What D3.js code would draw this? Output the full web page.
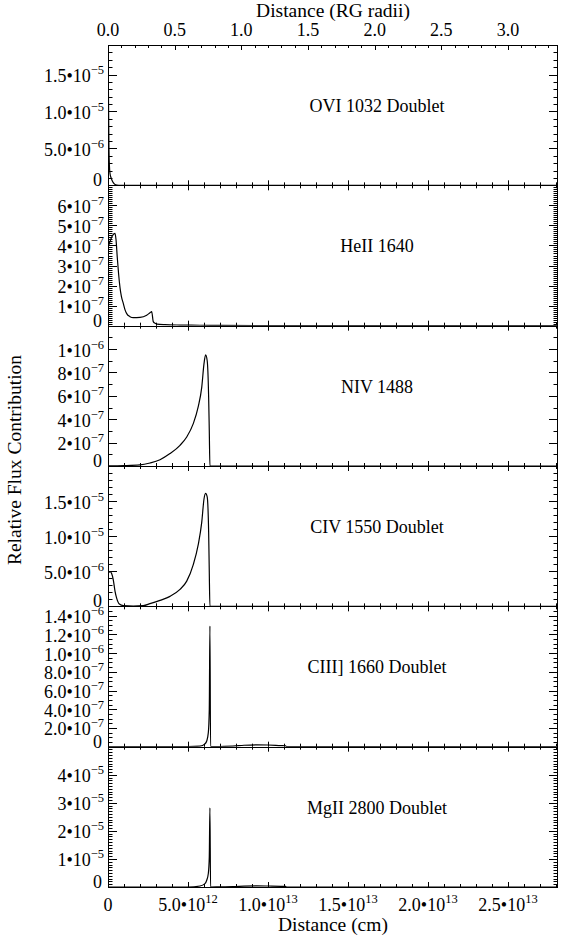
<!DOCTYPE html>
<html><head><meta charset="utf-8">
<script src="https://cdn.jsdelivr.net/npm/d3@7"></script>
<style>body{margin:0;background:#fff}svg{display:block}text{font-family:"Liberation Serif","Times New Roman",serif;fill:#000}</style>
</head><body><svg id="c" width="561" height="937" font-family="Liberation Serif, Times New Roman, serif"></svg>
<script>
// ---- data (x in units of 1e12 cm) ----
const panelNames = ["OVI 1032 Doublet","HeII 1640","NIV 1488","CIV 1550 Doublet","CIII] 1660 Doublet","MgII 2800 Doublet"];
const yMax = [1.9e-5, 7e-7, 1.2e-6, 2e-5, 1.5e-6, 5e-5];
const yMinorStep = [1e-6, 1e-8, 1e-7, 1e-6, 5e-8, 1e-6];
const yTicksOVI = [[0,"0"],[5e-6,"5.0•10^-6"],[1e-5,"1.0•10^-5"],[1.5e-5,"1.5•10^-5"]];
const yTicksHeII = [[0,"0"],[1e-7,"1•10^-7"],[2e-7,"2•10^-7"],[3e-7,"3•10^-7"],[4e-7,"4•10^-7"],[5e-7,"5•10^-7"],[6e-7,"6•10^-7"]];
const yTicksNIV = [[0,"0"],[2e-7,"2•10^-7"],[4e-7,"4•10^-7"],[6e-7,"6•10^-7"],[8e-7,"8•10^-7"],[1e-6,"1•10^-6"]];
const yTicksCIV = [[0,"0"],[5e-6,"5.0•10^-6"],[1e-5,"1.0•10^-5"],[1.5e-5,"1.5•10^-5"]];
const yTicksCIII = [[0,"0"],[2e-7,"2.0•10^-7"],[4e-7,"4.0•10^-7"],[6e-7,"6.0•10^-7"],[8e-7,"8.0•10^-7"],[1e-6,"1.0•10^-6"],[1.2e-6,"1.2•10^-6"],[1.4e-6,"1.4•10^-6"]];
const yTicksMgII = [[0,"0"],[1e-5,"1•10^-5"],[2e-5,"2•10^-5"],[3e-5,"3•10^-5"],[4e-5,"4•10^-5"]];

const xCmMax = 28.125;           // 1e12 cm
const cmPerRG = 8.3333;          // 1e12 cm per RG radius
const xTicksCm = [[0,"0"],[5,"5.0•10^12"],[10,"1.0•10^13"],[15,"1.5•10^13"],[20,"2.0•10^13"],[25,"2.5•10^13"]];
const xTicksRG = [[0,"0.0"],[0.5,"0.5"],[1,"1.0"],[1.5,"1.5"],[2,"2.0"],[2.5,"2.5"],[3,"3.0"]];

const xOVI = [0,0.03,0.06,0.09,0.125,0.18,0.23,0.28,0.33,0.38,0.44,0.55,0.8,28];
const yOVI = [1.9e-5,1.2e-5,5e-6,2.6e-6,1.6e-6,1.1e-6,8e-7,5.5e-7,3.6e-7,2.2e-7,1e-7,3e-8,0,0];
const xHeII = [0,0.125,0.25,0.44,0.5,0.58,0.66,0.75,0.84,0.96,1.06,1.17,1.375,1.58,2.0,2.42,2.62,2.73,2.83,2.94,3.06,3.56,4.5,5.75,7,10,15,28];
const yHeII = [3.9e-7,4.2e-7,4.45e-7,4.6e-7,4.3e-7,3.4e-7,2.6e-7,1.9e-7,1.45e-7,1.1e-7,8e-8,6e-8,4.5e-8,4e-8,4.1e-8,5.2e-8,6.4e-8,7e-8,2e-8,1.2e-8,8e-9,5e-9,3e-9,2e-9,1e-9,5e-10,0,0];
const xNIV = [0,1,2,2.625,3.25,3.875,4.5,4.92,5.33,5.64,5.86,6.0,6.1,6.2,6.29,6.33,6.37,28];
const yNIV = [1e-9,3e-9,9e-9,2.6e-8,5.4e-8,1.06e-7,1.77e-7,2.48e-7,3.62e-7,5.07e-7,6.75e-7,8.75e-7,9.5e-7,9.0e-7,5.9e-7,3.05e-7,0,0];
const xCIV = [0,0.125,0.22,0.33,0.44,0.54,0.71,0.96,1.58,2.21,2.625,3.25,3.875,4.5,4.92,5.33,5.64,5.86,6.0,6.1,6.2,6.29,6.33,6.37,28];
const yCIV = [4.7e-6,4.95e-6,4.7e-6,3.78e-6,2.13e-6,1.18e-6,3.3e-7,1e-7,3e-8,1e-7,3.8e-7,8.5e-7,1.42e-6,2.41e-6,3.59e-6,5.95e-6,8.8e-6,1.2e-5,1.53e-5,1.61e-5,1.56e-5,1.06e-5,4.9e-6,0,0];
const xCIII = [0,5.0,5.75,6.06,6.17,6.27,6.33,6.37,6.41,7.0,7.8,8.5,9.3,10.0,10.8,11.1,11.15,28];
const yCIII = [0,0,5e-9,3e-8,6e-8,1.5e-7,4e-7,1.29e-6,0,2e-9,5e-9,1.5e-8,2e-8,1.8e-8,1.2e-8,1e-8,0,0];
const xMgII = [0,5.0,5.75,6.06,6.17,6.27,6.33,6.37,6.41,7.0,7.8,8.5,9.3,10.0,10.8,11.1,11.15,28];
const yMgII = [0,0,3.6e-7,1.2e-6,2.4e-6,4.8e-6,1.07e-5,2.82e-5,0,5e-8,1e-7,3e-7,4e-7,3.5e-7,2.5e-7,2e-7,0,0];

const seriesX = [xOVI,xHeII,xNIV,xCIV,xCIII,xMgII];
const seriesY = [yOVI,yHeII,yNIV,yCIV,yCIII,yMgII];
const yTickSets = [yTicksOVI,yTicksHeII,yTicksNIV,yTicksCIV,yTicksCIII,yTicksMgII];

// ---- layout ----
const L = 108, R = 558, T = 45, B = 887, N = 6;
const ph = (B - T) / N;
const FS = 18, SUP = 12.5;
const svg = d3.select("#c");
const x = d3.scaleLinear().domain([0, xCmMax]).range([L, R]);
const xRG = d3.scaleLinear().domain([0, xCmMax / cmPerRG]).range([L, R]);

function addLabel(g, str, supSize, supDy) {
  const parts = str.split("^");
  g.append("tspan").text(parts[0]);
  if (parts[1] !== undefined) {
    g.append("tspan").attr("font-size", supSize).attr("dy", supDy).text(parts[1].replace("-", "\u2212"));
  }
}

for (let i = 0; i < N; i++) {
  const top = T + i * ph, bot = top + ph;
  const y = d3.scaleLinear().domain([0, yMax[i]]).range([bot, top]);
  const g = svg.append("g");
  const cid = "clip" + i;
  svg.append("clipPath").attr("id", cid).append("rect").attr("x", L).attr("y", top).attr("width", R - L).attr("height", ph);

  // curve
  const pts = seriesX[i].map((v, k) => [v, seriesY[i][k]]);
  g.append("path").datum(pts).attr("clip-path", `url(#${cid})`)
    .attr("fill", "none").attr("stroke", "#000").attr("stroke-width", 1.2)
    .attr("d", d3.line().x(d => x(d[0])).y(d => y(d[1])).curve(d3.curveMonotoneX));

  // y minor ticks
  const minor = d3.range(0, yMax[i] * 1.0001, yMinorStep[i]);
  const tk = g.append("g").attr("stroke", "#000").attr("stroke-width", 1);
  minor.forEach(v => {
    const yy = Math.round(y(v)) + 0.5;
    tk.append("line").attr("x1", L).attr("x2", L + 4.5).attr("y1", yy).attr("y2", yy);
    tk.append("line").attr("x1", R).attr("x2", R - 4.5).attr("y1", yy).attr("y2", yy);
  });
  // y major ticks + labels
  yTickSets[i].forEach(([v, lab]) => {
    const yy = Math.round(y(v)) + 0.5;
    tk.append("line").attr("x1", L).attr("x2", L + 9).attr("y1", yy).attr("y2", yy);
    tk.append("line").attr("x1", R).attr("x2", R - 9).attr("y1", yy).attr("y2", yy);
    const t = g.append("text").attr("x", lab === "0" ? 102 : 104).attr("y", y(v) + (v === 0 ? 1 : 7.5))
      .attr("text-anchor", "end").attr("font-size", FS);
    addLabel(t, lab, SUP, -8);
  });

  // x ticks bottom (cm)
  d3.range(0, xCmMax + 0.001, 1).forEach(v => {
    const xx = Math.round(x(v)) + 0.5;
    const major = Math.abs(v % 5) < 1e-6;
    tk.append("line").attr("x1", xx).attr("x2", xx).attr("y1", bot).attr("y2", bot - (major ? 5 : 3));
  });
  // x ticks top
  if (i === 0) {
    d3.range(0, xCmMax / cmPerRG + 0.001, 0.1).forEach(v => {
      const xx = Math.round(xRG(v)) + 0.5;
      const major = Math.abs(Math.round(v * 10) % 5) === 0;
      tk.append("line").attr("x1", xx).attr("x2", xx).attr("y1", top).attr("y2", top + (major ? 5 : 3));
    });
  } else {
    d3.range(0, xCmMax + 0.001, 1).forEach(v => {
      const xx = Math.round(x(v)) + 0.5;
      const major = Math.abs(v % 5) < 1e-6;
      tk.append("line").attr("x1", xx).attr("x2", xx).attr("y1", top).attr("y2", top + (major ? 5 : 3));
    });
  }

  // frame
  g.append("rect").attr("x", L + 0.5).attr("y", Math.round(top) + 0.5).attr("width", R - L - 1)
    .attr("height", Math.round(bot) - Math.round(top)).attr("fill", "none").attr("stroke", "#000").attr("stroke-width", 1);

  // panel label
  g.append("text").attr("x", 377).attr("y", top + 67).attr("text-anchor", "middle").attr("font-size", 18).text(panelNames[i]);
}

// top axis labels (RG radii)
xTicksRG.forEach(([v, lab]) => {
  svg.append("text").attr("x", xRG(v)).attr("y", 36).attr("text-anchor", "middle").attr("font-size", FS).text(lab);
});
svg.append("text").attr("x", (L + R) / 2).attr("y", 17).attr("text-anchor", "middle").attr("font-size", 19.5).text("Distance (RG radii)");

// bottom axis labels (cm)
xTicksCm.forEach(([v, lab]) => {
  const t = svg.append("text").attr("x", x(v)).attr("y", 911).attr("text-anchor", "middle").attr("font-size", FS);
  addLabel(t, lab, SUP, -8);
});
svg.append("text").attr("x", (L + R) / 2).attr("y", 931).attr("text-anchor", "middle").attr("font-size", 19.5).text("Distance (cm)");

// y title
svg.append("text").attr("transform", "translate(21,460) rotate(-90)").attr("text-anchor", "middle").attr("font-size", 19.5).text("Relative Flux Contribution");
</script></body></html>
